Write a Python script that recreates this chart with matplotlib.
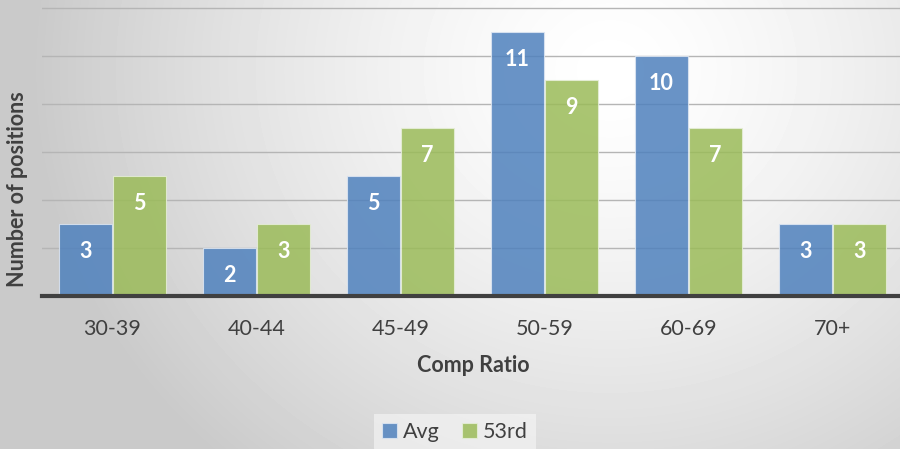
import numpy as np
from matplotlib import pyplot as plt

# Data
categories = ['30-39', '40-44', '45-49', '50-59', '60-69', '70+']
avg_counts = [3, 2, 5, 11, 10, 3]
rd53_counts = [5, 3, 7, 9, 7, 3]

plt.rcParams['font.family'] = ['Lato', 'DejaVu Sans']
text_color = '#404040'
fs = 15.5

fig = plt.figure(figsize=(9, 4.49), dpi=100)

# Radial gradient background
bg = fig.add_axes([0, 0, 1, 1], zorder=-10)
yy, xx = np.mgrid[0:449, 0:900]
d = np.hypot(xx - 610, (yy - 70) * 1.1)
shade = 1 - 0.21 * np.clip(d / 580, 0, 1) ** 1.4
bg.imshow(shade, cmap='gray', vmin=0, vmax=1, aspect='auto',
          extent=[0, 1, 0, 1], origin='upper')
bg.axis('off')

ax = fig.add_axes([42 / 900, 1 - 296 / 449, 1 - 42 / 900, 296 / 449])
ax.patch.set_alpha(0)

x = np.arange(len(categories))
w = 0.37
b1 = ax.bar(x - 0.187, avg_counts, w, color='#4F81BD', alpha=0.85,
            edgecolor='#dde6f2', linewidth=0.8, zorder=3, label='Avg')
b2 = ax.bar(x + 0.187, rd53_counts, w, color='#9BBB59', alpha=0.85,
            edgecolor='#e6eed8', linewidth=0.8, zorder=3, label='53rd')

# Value labels inside bar tops
for bars, vals in ((b1, avg_counts), (b2, rd53_counts)):
    for bar, v in zip(bars, vals):
        ax.annotate(str(v), (bar.get_x() + bar.get_width() / 2, v),
                    xytext=(0, -19.5), textcoords='offset points',
                    ha='center', va='center', color='white',
                    fontsize=fs, fontweight='bold', zorder=4)

ax.set_xlim(-0.49, 5.47)
ax.set_ylim(0, 12.35)
ax.set_yticks([2, 4, 6, 8, 10, 12])
ax.yaxis.grid(True, color='#b5b5b5', linewidth=1, zorder=0)
ax.tick_params(axis='y', left=False, labelleft=False)
ax.tick_params(axis='x', bottom=False, labelsize=fs, labelcolor=text_color, pad=13)
ax.set_xticks(x)
ax.set_xticklabels(categories)

for s in ['top', 'right', 'left']:
    ax.spines[s].set_visible(False)
ax.spines['bottom'].set_color(text_color)
ax.spines['bottom'].set_linewidth(3)
ax.spines['bottom'].set_zorder(5)

fig.text(473 / 900, 1 - 365 / 449, 'Comp Ratio', ha='center', va='center',
         fontsize=fs, fontweight='bold', color=text_color)
fig.text(18 / 900, 1 - 189 / 449, 'Number of positions', ha='center', va='center',
         rotation=90, fontsize=fs, fontweight='bold', color=text_color)

leg = fig.legend(loc='center', bbox_to_anchor=(455 / 900, 1 - 432 / 449), ncol=2,
                 frameon=True, fontsize=fs, handlelength=0.7, handleheight=0.7,
                 handletextpad=0.3, columnspacing=1.0, borderpad=0.35,
                 fancybox=False)
leg.get_frame().set_facecolor('#f7f7f7')
leg.get_frame().set_edgecolor('none')
leg.get_frame().set_alpha(0.6)
for t in leg.get_texts():
    t.set_color(text_color)

plt.savefig('out.png', dpi=100)
